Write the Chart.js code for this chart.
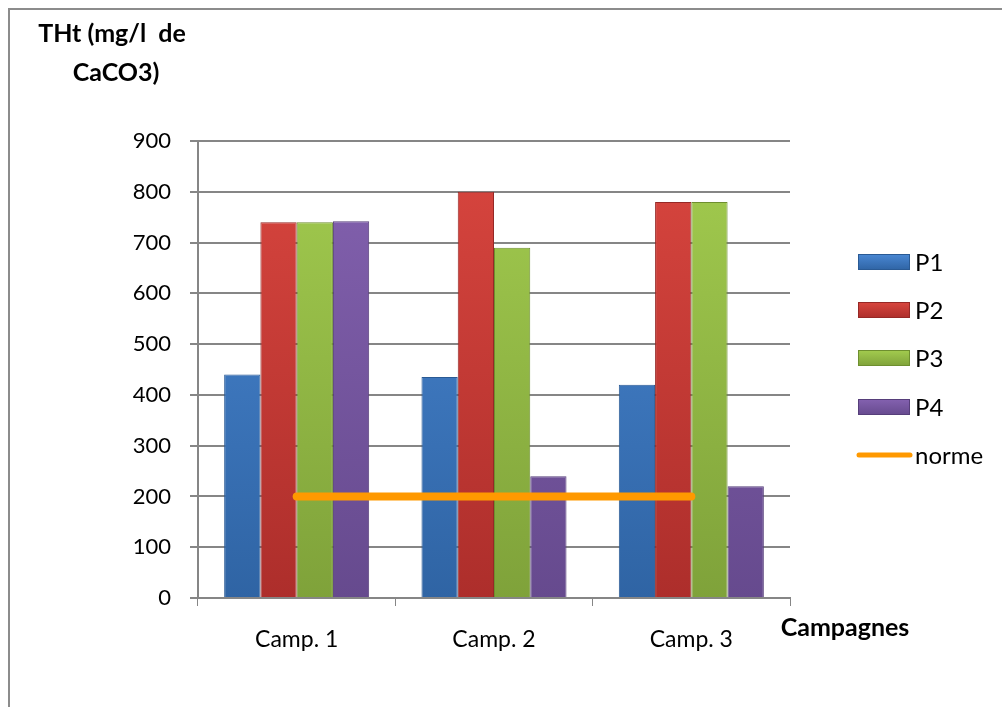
<!DOCTYPE html>
<html>
<head>
<meta charset="utf-8">
<script src="https://cdn.jsdelivr.net/npm/chart.js@4.4.1/dist/chart.umd.min.js"></script>
<style>
  html, body { margin: 0; padding: 0; background: #fff; }
  #wrap { position: relative; width: 1002px; height: 707px; }
  #frame { position: absolute; left: 8px; top: 8px; width: 1000px; height: 705px;
           border-left: 2px solid #8c8c8c; border-top: 2px solid #8c8c8c; }
  canvas { position: absolute; left: 0; top: 0; }
</style>
</head>
<body>
<div id="wrap">
  <div id="frame"></div>
  <canvas id="chart" width="1002" height="707"></canvas>
</div>
<script>
const categories = ['Camp. 1', 'Camp. 2', 'Camp. 3'];
const p1 = [440, 435, 420];
const p2 = [740, 800, 780];
const p3 = [740, 690, 780];
const p4 = [742, 240, 220];
const norme = [200, 200, 200];
const yTicks = [0, 100, 200, 300, 400, 500, 600, 700, 800, 900];

const FONT = "Lato, 'Open Sans', sans-serif";

// [top colour, bottom colour, edge colour]
const shades = {
  P1: ['#4a88d4', '#2f64a4', '#2a5a94'],
  P2: ['#d9463f', '#ad2e2b', '#962826'],
  P3: ['#a3cc4f', '#7fa23a', '#6e8f2f'],
  P4: ['#8462b0', '#664a8e', '#563e7a']
};

function grad(name) {
  return ctx => {
    const chart = ctx.chart;
    const area = chart.chartArea;
    if (!area) return shades[name][0];
    const g = chart.ctx.createLinearGradient(0, area.top, 0, area.bottom);
    g.addColorStop(0, shades[name][0]);
    g.addColorStop(1, shades[name][1]);
    return g;
  };
}

function barSet(label, data) {
  return {
    type: 'bar', label, data, order: 1,
    backgroundColor: grad(label),
    borderColor: shades[label][2],
    borderWidth: 1
  };
}

const titles = {
  id: 'titles',
  afterDraw(chart) {
    const c = chart.ctx;
    c.save();
    c.fillStyle = '#000';
    c.font = "bold 25px " + FONT;
    c.textAlign = 'center';
    c.textBaseline = 'middle';
    c.fillText('THt (mg/l  de', 112, 34);
    c.fillText('CaCO3)', 116, 73);
    c.fillText('Campagnes', 845, 628);

    // legend
    const rows = [262, 310, 358, 407, 455];
    chart.data.datasets.forEach((ds, i) => {
      const y = rows[i];
      if (ds.type === 'bar') {
        const g = c.createLinearGradient(0, y - 8, 0, y + 8);
        g.addColorStop(0, shades[ds.label][0]);
        g.addColorStop(1, shades[ds.label][1]);
        c.fillStyle = g;
        c.fillRect(858, y - 8, 52, 16);
        c.strokeStyle = shades[ds.label][2];
        c.lineWidth = 1;
        c.strokeRect(858.5, y - 7.5, 51, 15);
      } else {
        c.strokeStyle = ds.borderColor;
        c.lineWidth = 5;
        c.lineCap = 'round';
        c.beginPath();
        c.moveTo(859, y);
        c.lineTo(910, y);
        c.stroke();
      }
      c.fillStyle = '#000';
      c.font = "24px " + FONT;
      c.textAlign = 'left';
      c.fillText(ds.label, 915, y + 1);
    });
    c.restore();
  }
};

new Chart(document.getElementById('chart'), {
  data: {
    labels: categories,
    datasets: [
      barSet('P1', p1),
      barSet('P2', p2),
      barSet('P3', p3),
      barSet('P4', p4),
      {
        type: 'line', label: 'norme', data: norme, order: 0,
        borderColor: '#ff9900', borderWidth: 8, borderCapStyle: 'round',
        pointRadius: 0, fill: false
      }
    ]
  },
  options: {
    responsive: false,
    animation: false,
    layout: { padding: { left: 0, right: 212, top: 141, bottom: 0 } },
    datasets: { bar: { barPercentage: 1, categoryPercentage: 0.735 } },
    plugins: { legend: { display: false }, tooltip: { enabled: false } },
    scales: {
      x: {
        offset: true,
        grid: { display: true, drawOnChartArea: false, offset: true, tickLength: 8, color: '#868686', lineWidth: 1 },
        border: { display: true, color: '#868686', width: 2 },
        ticks: { color: '#000', font: { family: FONT, size: 23 }, padding: 20 },
        afterFit: s => { s.height = 109; }
      },
      y: {
        min: 0, max: 900,
        afterBuildTicks: s => { s.ticks = yTicks.map(v => ({ value: v })); },
        grid: { color: '#868686', lineWidth: 2, tickLength: 8 },
        border: { display: true, color: '#868686', width: 2 },
        ticks: { color: '#000', font: { family: FONT, size: 22 }, padding: 19 },
        afterFit: s => { s.width = 198; }
      }
    }
  },
  plugins: [titles]
});
</script>
</body>
</html>
